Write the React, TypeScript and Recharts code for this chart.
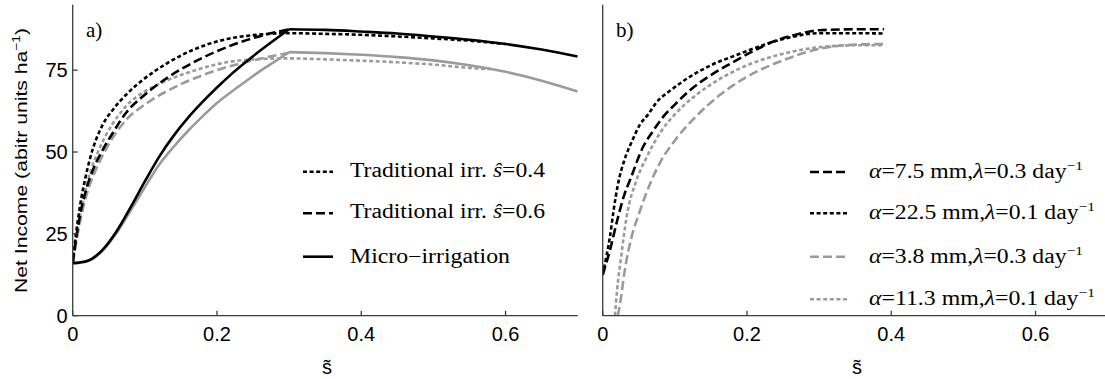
import { LineChart, Line, XAxis, YAxis } from 'recharts';

type Pt = [number, number];

const sTicks = [0, 0.2, 0.4, 0.6];
const incomeTicks = [0, 25, 50, 75];

// panel a): net income vs s~ for three irrigation strategies (black / gray = two parameter sets)
// micro-irrigation curves are split at their peak so the corner stays sharp
const microBlackRise: Pt[] = [
  [0, 16], [0.02, 16.7], [0.04, 19.8], [0.06, 25.5], [0.08, 33], [0.1, 41], [0.12, 48.6],
  [0.14, 55], [0.16, 60.5], [0.18, 65.3], [0.2, 69.7], [0.22, 73.8], [0.24, 77.5], [0.26, 81],
  [0.28, 84.3], [0.3, 87.5],
];
const microBlackFall: Pt[] = [
  [0.3, 87.5], [0.35, 87.3], [0.4, 86.8], [0.45, 86.2], [0.5, 85.3], [0.55, 84.3],
  [0.6, 83], [0.65, 81.3], [0.7, 79.2],
];
const microGrayRise: Pt[] = [
  [0, 16], [0.02, 16.6], [0.04, 19.5], [0.06, 25], [0.08, 32], [0.1, 39.2], [0.12, 46.2],
  [0.14, 51.6], [0.16, 56.5], [0.18, 60.9], [0.2, 65], [0.22, 68.4], [0.24, 71.6], [0.26, 74.8],
  [0.28, 77.6], [0.3, 80.5],
];
const microGrayFall: Pt[] = [
  [0.3, 80.5], [0.35, 80.2], [0.4, 79.7], [0.45, 79], [0.5, 78], [0.55, 76.5],
  [0.6, 74.5], [0.65, 71.8], [0.7, 68.5],
];
const trad04Black: Pt[] = [
  [0, 16], [0.004, 24], [0.008, 30.5], [0.012, 36], [0.017, 41.5], [0.024, 48], [0.042, 58.5],
  [0.056, 63], [0.074, 67.5], [0.097, 72], [0.13, 77], [0.17, 81.5], [0.204, 84], [0.25, 85.7],
  [0.3, 86.3], [0.35, 86.1], [0.4, 85.8], [0.45, 85.3], [0.5, 84.7], [0.55, 84], [0.6, 83],
];
const trad06Black: Pt[] = [
  [0, 16], [0.005, 24], [0.01, 30.5], [0.018, 38], [0.028, 44.5], [0.04, 50], [0.056, 56],
  [0.074, 62], [0.1, 67.5], [0.13, 72.5], [0.16, 76.5], [0.2, 80.8], [0.25, 84.8], [0.3, 87.5],
];
const trad04Gray: Pt[] = [
  [0, 16], [0.005, 23.5], [0.01, 30], [0.018, 38.5], [0.026, 45], [0.035, 50], [0.074, 64],
  [0.1, 68.5], [0.13, 71.8], [0.17, 75], [0.204, 77], [0.25, 78.3], [0.3, 78.6], [0.35, 78.3],
  [0.4, 77.9], [0.45, 77.4], [0.5, 76.7], [0.55, 75.7], [0.58, 75.3],
];
const trad06Gray: Pt[] = [
  [0, 16], [0.005, 22.5], [0.01, 28.5], [0.02, 37.5], [0.03, 43.5], [0.044, 50], [0.074, 59.8],
  [0.1, 64.5], [0.134, 69], [0.17, 72.6], [0.204, 75.3], [0.25, 78], [0.3, 80.3],
];

// panel b): rainfall depth / frequency combinations
const a75l03: Pt[] = [
  [0, 12.5], [0.01, 20], [0.02, 29], [0.03, 37], [0.038, 41.5], [0.056, 51.6], [0.07, 56.5],
  [0.084, 60.8], [0.1, 64.5], [0.121, 68.9], [0.15, 73.5], [0.177, 77], [0.21, 81], [0.241, 84.1],
  [0.27, 86], [0.3, 87.2], [0.35, 87.5], [0.39, 87.5],
];
const a225l01: Pt[] = [
  [0, 12.5], [0.005, 18], [0.01, 24], [0.015, 32], [0.021, 40], [0.03, 47.5], [0.04, 53],
  [0.052, 58.5], [0.063, 61.5], [0.074, 65], [0.095, 69], [0.121, 73], [0.15, 76.5], [0.19, 80],
  [0.22, 82.5], [0.259, 85], [0.3, 86.3], [0.35, 86.3], [0.39, 86.2],
];
const a38l03: Pt[] = [
  [0.021, 0], [0.025, 5], [0.03, 13], [0.04, 24], [0.05, 31], [0.068, 41.5], [0.08, 47],
  [0.1, 53.5], [0.13, 61], [0.16, 67], [0.2, 73], [0.25, 78], [0.3, 81.5], [0.35, 82.8], [0.39, 83],
];
const a113l01: Pt[] = [
  [0.017, 0], [0.02, 8], [0.025, 17], [0.033, 30], [0.047, 41.5], [0.06, 48], [0.08, 56],
  [0.1, 61.5], [0.13, 67.5], [0.16, 72], [0.2, 76.5], [0.25, 80], [0.3, 82], [0.35, 82.6], [0.39, 82.6],
];

const BLACK = '#000000';
const GRAY = '#9b9b9b';
const AXIS = '#3c3c3c';
const DASHED = '9 4';
const DOTTED = '4 2.6';

interface Series {
  key: string;
  pts: Pt[];
  color: string;
  dash?: string;
}

const panelA: Series[] = [
  { key: 'trad04Gray', pts: trad04Gray, color: GRAY, dash: DOTTED },
  { key: 'trad06Gray', pts: trad06Gray, color: GRAY, dash: DASHED },
  { key: 'microGrayRise', pts: microGrayRise, color: GRAY },
  { key: 'microGrayFall', pts: microGrayFall, color: GRAY },
  { key: 'trad04Black', pts: trad04Black, color: BLACK, dash: DOTTED },
  { key: 'trad06Black', pts: trad06Black, color: BLACK, dash: DASHED },
  { key: 'microBlackRise', pts: microBlackRise, color: BLACK },
  { key: 'microBlackFall', pts: microBlackFall, color: BLACK },
];

const panelB: Series[] = [
  { key: 'a113l01', pts: a113l01, color: GRAY, dash: DOTTED },
  { key: 'a38l03', pts: a38l03, color: GRAY, dash: DASHED },
  { key: 'a225l01', pts: a225l01, color: BLACK, dash: DOTTED },
  { key: 'a75l03', pts: a75l03, color: BLACK, dash: DASHED },
];

const sans = '"Liberation Sans", Arial, sans-serif';
const serif = '"Liberation Serif", "Times New Roman", serif';
const tickFont = { fontFamily: sans, fontSize: 20, fill: '#000' };

interface PanelProps {
  series: Series[];
  left: number;
  yLabels: boolean;
  rightFrame: boolean;
}

function Panel({ series, left, yLabels, rightFrame }: PanelProps) {
  return (
    <div style={{ position: 'absolute', left, top: 0 }}>
      <LineChart width={600} height={379} margin={{ top: 4.7, right: 22.3, bottom: 23.3, left: 12.7 }}>
        <XAxis
          type="number"
          dataKey="s"
          domain={[0, 0.7]}
          ticks={sTicks}
          allowDataOverflow
          height={40}
          tickSize={-5}
          tickMargin={16}
          tick={tickFont}
          stroke={AXIS}
          strokeWidth={1.3}
          tickFormatter={(v: number) => String(v)}
        />
        <XAxis xAxisId="top" orientation="top" type="number" domain={[0, 0.7]} height={0} tick={false} tickLine={false} stroke={AXIS} strokeWidth={1.3} />
        <YAxis
          type="number"
          domain={[0, 95]}
          ticks={incomeTicks}
          allowDataOverflow
          width={60}
          tickSize={-5}
          tickMargin={10}
          tick={yLabels ? tickFont : false}
          tickLine={yLabels}
          stroke={AXIS}
          strokeWidth={1.3}
        />
        {rightFrame && (
          <YAxis yAxisId="right" orientation="right" type="number" domain={[0, 95]} width={0} tick={false} tickLine={false} stroke={AXIS} strokeWidth={1.3} />
        )}
        {series.map((sr) => (
          <Line
            key={sr.key}
            data={sr.pts.map(([s, v]) => ({ s, v }))}
            dataKey="v"
            type="monotone"
            stroke={sr.color}
            strokeWidth={2.6}
            strokeDasharray={sr.dash}
            dot={false}
            activeDot={false}
            isAnimationActive={false}
          />
        ))}
      </LineChart>
    </div>
  );
}

const legendA = [
  { color: BLACK, dash: DOTTED, hat: '0.4' },
  { color: BLACK, dash: DASHED, hat: '0.6' },
];
const legendB = [
  { color: BLACK, dash: DASHED, a: '7.5', l: '0.3', w: 214 },
  { color: BLACK, dash: DOTTED, a: '22.5', l: '0.1', w: 226 },
  { color: GRAY, dash: DASHED, a: '3.8', l: '0.3', w: 214 },
  { color: GRAY, dash: DOTTED, a: '11.3', l: '0.1', w: 226 },
];
const rowsA = [171.7, 213.3, 256.7];
const rowsB = [172, 213.3, 256.7, 299.3];

export default function App() {
  return (
    <div style={{ position: 'fixed', left: 0, top: 0, width: 1105, height: 379, overflow: 'hidden', background: '#fff' }}>
      <Panel series={panelA} left={0} yLabels rightFrame />
      <Panel series={panelB} left={530} yLabels={false} rightFrame={false} />
      <svg width={1105} height={379} style={{ position: 'absolute', left: 0, top: 0, pointerEvents: 'none' }}>
        <text x={86} y={37} fontFamily={serif} fontSize={21}>a)</text>
        <text x={616} y={37} fontFamily={serif} fontSize={21}>b)</text>

        <text
          transform="translate(27, 160.5) rotate(-90)"
          textAnchor="middle"
          fontFamily={sans}
          fontSize={17}
          textLength={265}
          lengthAdjust="spacingAndGlyphs"
        >
          Net Income (abitr units ha<tspan dy={-7} fontSize={11}>−1</tspan><tspan dy={7}>)</tspan>
        </text>
        <text x={327} y={373.5} textAnchor="middle" fontFamily={sans} fontSize={20}>{'s\u0303'}</text>
        <text x={857} y={373.5} textAnchor="middle" fontFamily={sans} fontSize={20}>{'s\u0303'}</text>

        {legendA.map((it, i) => (
          <g key={it.hat}>
            <line x1={303} x2={333} y1={rowsA[i]} y2={rowsA[i]} stroke={it.color} strokeWidth={2.6} strokeDasharray={it.dash} />
            <text x={350} y={rowsA[i] + 5} fontFamily={serif} fontSize={20} textLength={195} lengthAdjust="spacingAndGlyphs">
              Traditional irr. <tspan fontStyle="italic">ŝ</tspan>={it.hat}
            </text>
          </g>
        ))}
        <line x1={303} x2={333} y1={rowsA[2]} y2={rowsA[2]} stroke={BLACK} strokeWidth={2.6} />
        <text x={350} y={rowsA[2] + 6} fontFamily={serif} fontSize={20} textLength={160} lengthAdjust="spacingAndGlyphs">
          Micro−irrigation
        </text>

        {legendB.map((it, i) => (
          <g key={it.a}>
            <line x1={810} x2={848} y1={rowsB[i]} y2={rowsB[i]} stroke={it.color} strokeWidth={2.6} strokeDasharray={it.dash} />
            <text x={869} y={rowsB[i] + 6} fontFamily={serif} fontSize={20} textLength={it.w} lengthAdjust="spacingAndGlyphs">
              <tspan fontStyle="italic">α</tspan>={it.a} mm,<tspan fontStyle="italic">λ</tspan>={it.l} day<tspan dy={-8} fontSize={13}>−1</tspan>
            </text>
          </g>
        ))}
      </svg>
    </div>
  );
}
